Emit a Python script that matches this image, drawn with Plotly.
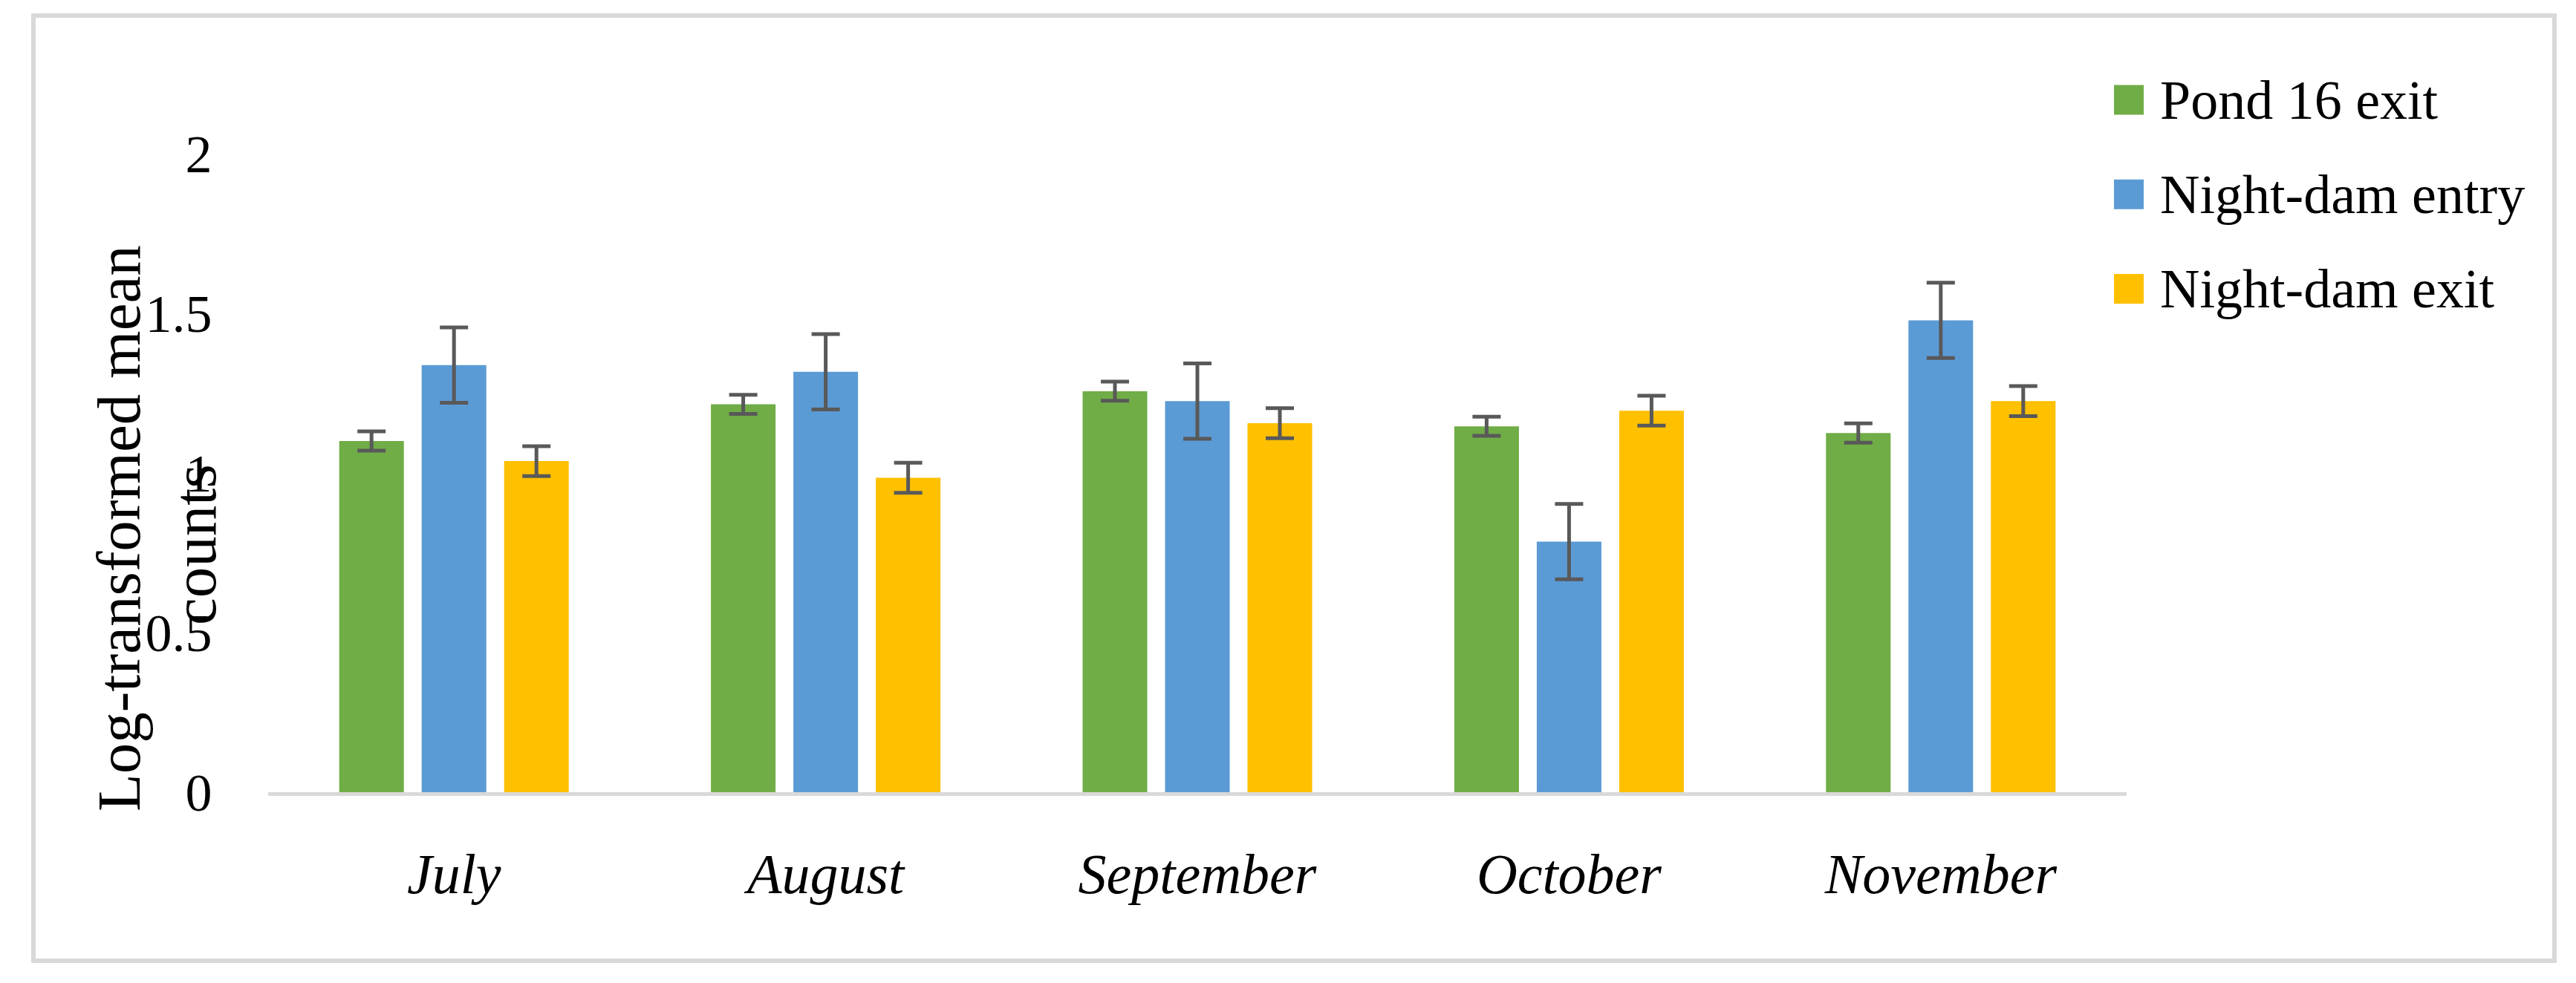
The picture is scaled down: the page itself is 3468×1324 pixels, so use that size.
import plotly.graph_objects as go

# ---------------- data ----------------
months = ["July", "August", "September", "October", "November"]
series_names = ["Pond 16 exit", "Night-dam entry", "Night-dam exit"]
pond16_exit = [1.10, 1.215, 1.256, 1.146, 1.125]
pond16_exit_err = [0.03, 0.03, 0.03, 0.03, 0.03]
nightdam_entry = [1.338, 1.317, 1.225, 0.785, 1.478]
nightdam_entry_err = [0.118, 0.118, 0.118, 0.118, 0.118]
nightdam_exit = [1.037, 0.985, 1.156, 1.195, 1.225]
nightdam_exit_err = [0.047, 0.047, 0.047, 0.047, 0.047]
y_tickvals = [0, 0.5, 1, 1.5, 2]
y_ticktext = ["0", "0.5", "1", "1.5", "2"]
y_title_lines = ["Log-transformed mean", "counts"]

colors = ["#70AD47", "#5B9BD5", "#FFC000"]
values = [pond16_exit, nightdam_entry, nightdam_exit]
errors = [pond16_exit_err, nightdam_entry_err, nightdam_exit_err]

# ---------------- geometry ----------------
W, H = 3468, 1324
ml, mr, mt, mb = 361, 605, 207, 257
pw = W - ml - mr
ph = H - mt - mb
FONT = "Liberation Serif"


def px_x(x):
    return (x - ml) / pw


def px_y(y):
    return (H - mb - y) / ph


fig = go.Figure()
for name, vals, errs, col in zip(series_names, values, errors, colors):
    fig.add_trace(go.Bar(
        x=months, y=vals, name=name, showlegend=False,
        marker=dict(color=col, line=dict(width=0)),
        error_y=dict(type="data", array=errs, visible=True,
                     color="#595959", thickness=5, width=19),
    ))

shapes = [dict(type="rect", xref="paper", yref="paper",
               x0=px_x(45), x1=px_x(3439), y0=px_y(1294), y1=px_y(21),
               line=dict(color="#D9D9D9", width=6), fillcolor="rgba(0,0,0,0)",
               layer="below")]
annotations = []
for i, (name, col) in enumerate(zip(series_names, colors)):
    cy = 134.5 + i * 127.3
    shapes.append(dict(type="rect", xref="paper", yref="paper",
                       x0=px_x(2846), x1=px_x(2886),
                       y0=px_y(cy + 20), y1=px_y(cy - 20),
                       fillcolor=col, line=dict(width=0)))
    annotations.append(dict(xref="paper", yref="paper", x=px_x(2906), y=px_y(cy),
                            xanchor="left", yanchor="middle", showarrow=False,
                            text=name, font=dict(family=FONT, size=74, color="black")))

# y-axis title: two centred lines, as in the source figure
title_pos = [(160, 712), (262, 734)]
for line, (tx, ty) in zip(y_title_lines, title_pos):
    annotations.append(dict(xref="paper", yref="paper", x=px_x(tx), y=px_y(ty),
                            xanchor="center", yanchor="middle", showarrow=False,
                            textangle=-90, text=line,
                            font=dict(family=FONT, size=83, color="black")))

fig.update_layout(
    width=W, height=H,
    margin=dict(l=ml, r=mr, t=mt, b=mb, autoexpand=False),
    paper_bgcolor="white", plot_bgcolor="white",
    barmode="group", bargap=0.3345, bargroupgap=0.216,
    font=dict(family=FONT, color="black"),
    shapes=shapes, annotations=annotations,
    showlegend=False,
    xaxis=dict(type="category", showline=True, linecolor="#D9D9D9", linewidth=5,
               showgrid=False, zeroline=False, ticks="outside", ticklen=40,
               tickcolor="rgba(0,0,0,0)",
               tickfont=dict(family=FONT, size=76, color="black", style="italic")),
    yaxis=dict(range=[0, 2], tickvals=y_tickvals, ticktext=y_ticktext,
               showline=False, showgrid=False, zeroline=False,
               ticks="outside", ticklen=60, tickcolor="rgba(0,0,0,0)",
               tickfont=dict(family=FONT, size=72, color="black")),
)

fig.write_html("out.html")
